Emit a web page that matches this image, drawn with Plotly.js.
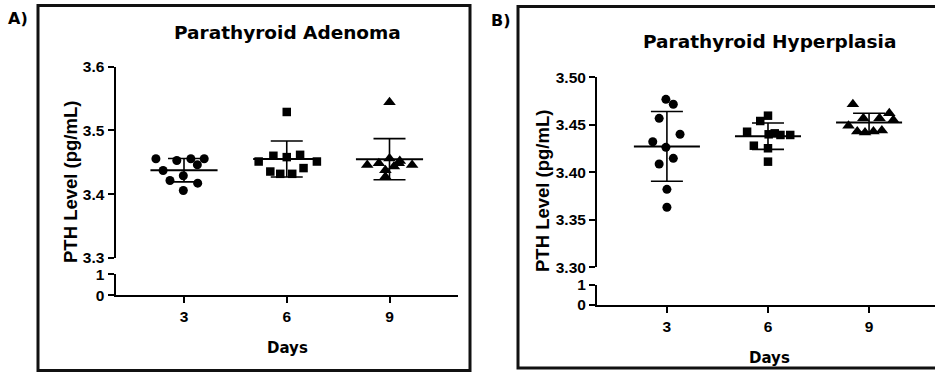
<!DOCTYPE html>
<html>
<head>
<meta charset="utf-8">
<script src="https://cdn.plot.ly/plotly-3.0.1.min.js"></script>
<style>html,body{margin:0;padding:0;background:#fff}#chart{width:935px;height:375px}</style>
</head>
<body>
<div id="chart"></div>
<script>
// ---------- data ----------
const days = [3, 6, 9];
const dayTickText = ['3', '6', '9'];

// Panel A – Parathyroid Adenoma (PTH level, pg/mL)
const adenomaDay3 = [3.4556, 3.4529, 3.4556, 3.4556, 3.4462, 3.4372, 3.4289, 3.4215, 3.4174, 3.4058];
const adenomaDay6 = [3.5290, 3.4603, 3.4582, 3.4618, 3.4513, 3.4513, 3.4410, 3.4356, 3.4320, 3.4320];
const adenomaDay9 = [3.5441, 3.4459, 3.4486, 3.4562, 3.4486, 3.4459, 3.4378, 3.4433, 3.4275, 3.4520];
// horizontal scatter (jitter) of each point, in days
const adenomaJit3 = [-0.82, -0.21, 0.20, 0.59, 0.39, -0.61, -0.02, -0.41, 0.40, -0.02];
const adenomaJit6 = [0.00, -0.39, 0.00, 0.39, -0.82, 0.88, 0.49, -0.48, -0.19, 0.16];
const adenomaJit9 = [0.00, -0.65, -0.31, 0.00, 0.27, 0.66, -0.12, 0.13, -0.12, 0.30];

// Panel B – Parathyroid Hyperplasia
const hyperDay3 = [3.4768, 3.4716, 3.4568, 3.4400, 3.4322, 3.4263, 3.4147, 3.4087, 3.3821, 3.3632];
const hyperDay6 = [3.4596, 3.4540, 3.4427, 3.4400, 3.4393, 3.4393, 3.4280, 3.4253, 3.4112, 3.4410];
const hyperDay9 = [3.4716, 3.4621, 3.4568, 3.4568, 3.4491, 3.4550, 3.4430, 3.4420, 3.4430, 3.4440];
const hyperJit3 = [-0.03, 0.19, -0.23, 0.39, -0.42, -0.03, 0.19, -0.23, 0.00, 0.00];
const hyperJit6 = [0.00, -0.23, -0.62, 0.02, 0.37, 0.66, -0.42, 0.00, 0.00, 0.20];
const hyperJit9 = [-0.48, 0.60, -0.17, 0.31, -0.61, 0.72, -0.35, -0.12, 0.13, 0.38];

const adenomaTicks = [3.3, 3.4, 3.5, 3.6];
const adenomaTickText = ['3.3', '3.4', '3.5', '3.6'];
const hyperTicks = [3.30, 3.35, 3.40, 3.45, 3.50];
const hyperTickText = ['3.30', '3.35', '3.40', '3.45', '3.50'];
const breakTicks = [0, 1];
const breakTickText = ['0', '1'];

// ---------- helpers ----------
const W = 935, H = 375;
const X = px => px / W;
const Y = py => 1 - py / H;
const mean = a => a.reduce((s, v) => s + v, 0) / a.length;
const sd = a => { const m = mean(a); return Math.sqrt(a.reduce((s, v) => s + (v - m) * (v - m), 0) / (a.length - 1)); };

const BLACK = '#000';
const symbols = ['circle', 'square', 'triangle-up'];
const sizes = [9, 8.5, 11];
const MEAN_HALF = 0.98;

const traces = [];
function addGroup(day, vals, jit, idx, xa, ya) {
  traces.push({
    type: 'scatter', mode: 'markers', xaxis: xa, yaxis: ya,
    x: vals.map((v, i) => day + jit[i]), y: vals,
    marker: {symbol: symbols[idx], size: sizes[idx], color: BLACK, line: {width: 0}},
    hoverinfo: 'y', showlegend: false, cliponaxis: false
  });
  const m = mean(vals), s = sd(vals);
  traces.push({
    type: 'scatter', mode: 'lines', xaxis: xa, yaxis: ya,
    x: [day - MEAN_HALF, day + MEAN_HALF], y: [m, m],
    line: {color: BLACK, width: 2}, showlegend: false, hoverinfo: 'skip'
  });
  traces.push({
    type: 'scatter', mode: 'markers', xaxis: xa, yaxis: ya,
    x: [day], y: [m],
    marker: {size: 1, color: 'rgba(0,0,0,0)'},
    error_y: {type: 'data', array: [s], visible: true, color: BLACK, thickness: 1.6, width: 16},
    showlegend: false, hoverinfo: 'skip'
  });
}
[adenomaDay3, adenomaDay6, adenomaDay9].forEach((v, i) =>
  addGroup(days[i], v, [adenomaJit3, adenomaJit6, adenomaJit9][i], i, 'x', 'y'));
[hyperDay3, hyperDay6, hyperDay9].forEach((v, i) =>
  addGroup(days[i], v, [hyperJit3, hyperJit6, hyperJit9][i], i, 'x2', 'y3'));
// keep the lower (broken) axis segments alive
traces.push({type: 'scatter', mode: 'markers', x: [null], y: [null], xaxis: 'x', yaxis: 'y2', showlegend: false});
traces.push({type: 'scatter', mode: 'markers', x: [null], y: [null], xaxis: 'x2', yaxis: 'y4', showlegend: false});

const tickFont = {family: 'Liberation Sans', size: 15.5, color: BLACK, weight: 'bold'};
const axBase = {
  showline: true, linecolor: BLACK, linewidth: 2, ticks: 'outside', ticklen: 6,
  tickwidth: 2, tickcolor: BLACK, showgrid: false, zeroline: false,
  tickfont: tickFont, tickmode: 'array', fixedrange: true
};

function ann(text, px, py, font, extra) {
  return Object.assign({text: text, x: X(px), y: Y(py), xref: 'paper', yref: 'paper',
    xanchor: 'center', yanchor: 'middle', showarrow: false, font: font}, extra || {});
}
const F = (fam, size) => ({family: fam, size: size, color: BLACK, weight: 'bold'});

const layout = {
  width: W, height: H, autosize: false,
  margin: {l: 0, r: 0, t: 0, b: 0, pad: 0},
  paper_bgcolor: '#fff', plot_bgcolor: 'rgba(0,0,0,0)',
  showlegend: false,
  xaxis: Object.assign({}, axBase, {domain: [X(115.5), X(458)], range: [1, 11], anchor: 'y2',
    tickvals: days, ticktext: dayTickText}),
  yaxis: Object.assign({}, axBase, {domain: [Y(258), Y(66.7)], range: [3.3, 3.6], anchor: 'x',
    tickvals: adenomaTicks, ticktext: adenomaTickText}),
  yaxis2: Object.assign({}, axBase, {domain: [Y(295.3), Y(274.3)], range: [0, 1], anchor: 'x',
    tickvals: breakTicks, ticktext: breakTickText}),
  xaxis2: Object.assign({}, axBase, {domain: [X(597), 1], range: [0.925, 10.957], anchor: 'y4',
    tickvals: days, ticktext: dayTickText}),
  yaxis3: Object.assign({}, axBase, {domain: [Y(267.3), Y(77.3)], range: [3.3, 3.5], anchor: 'x2',
    tickvals: hyperTicks, ticktext: hyperTickText}),
  yaxis4: Object.assign({}, axBase, {domain: [Y(305), Y(285)], range: [0, 1], anchor: 'x2',
    tickvals: breakTicks, ticktext: breakTickText}),
  shapes: [
    {type: 'rect', xref: 'paper', yref: 'paper', x0: X(38), x1: X(470), y0: Y(370.5), y1: Y(5.5),
      line: {color: '#111', width: 3}},
    {type: 'rect', xref: 'paper', yref: 'paper', x0: X(518), x1: X(950), y0: Y(368), y1: Y(6.5),
      line: {color: '#111', width: 3}}
  ],
  annotations: [
    ann('A)', 18, 19, F('DejaVu Sans', 16)),
    ann('B)', 501, 20, F('DejaVu Sans', 16)),
    ann('Parathyroid Adenoma', 287, 32, F('DejaVu Sans', 18.5)),
    ann('Parathyroid Hyperplasia', 769, 42, F('DejaVu Sans', 18.5)),
    ann('PTH Level (pg/mL)', 70, 182, F('Liberation Sans', 18.5), {textangle: -90}),
    ann('PTH Level (pg/mL)', 542, 191, F('Liberation Sans', 18.5), {textangle: -90}),
    ann('Days', 287.5, 348, F('DejaVu Sans', 15)),
    ann('Days', 769, 357.5, F('DejaVu Sans', 15))
  ]
};

Plotly.newPlot('chart', traces, layout, {staticPlot: true, displayModeBar: false});
</script>
</body>
</html>
